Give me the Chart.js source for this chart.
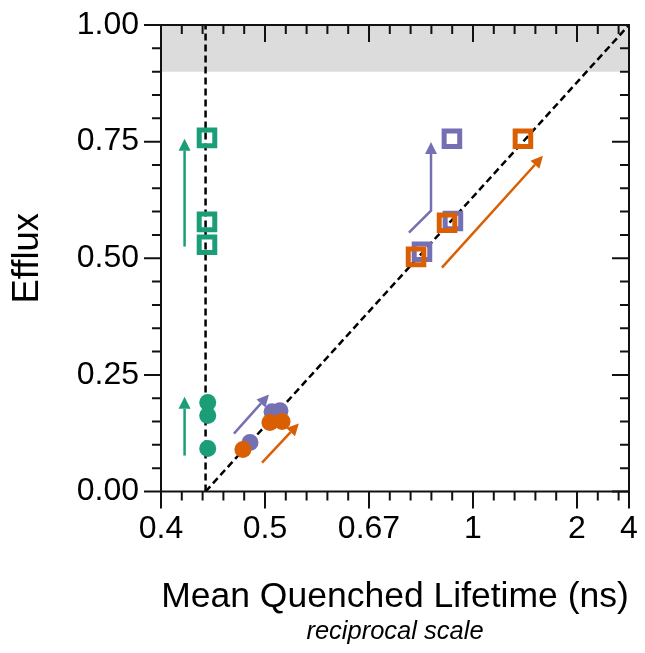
<!DOCTYPE html>
<html>
<head>
<meta charset="utf-8">
<script src="https://cdn.jsdelivr.net/npm/chart.js@4.4.0/dist/chart.umd.min.js"></script>
<style>
  html, body { margin: 0; padding: 0; background: #fff; }
</style>
</head>
<body>
<canvas id="effluxChart" width="645" height="653"></canvas>
<script>
// x axis: mean quenched lifetime (ns), drawn on a reciprocal scale
const xMin = 0.4, xMax = 4;
const xTickValues = [0.4, 0.5, 0.6667, 1, 2, 4];
const xTickLabels = ['0.4', '0.5', '0.67', '1', '2', '4'];
const yMin = 0, yMax = 1;
const yTickValues = [0, 0.25, 0.5, 0.75, 1];

// grey band at the top
const bandLow = 0.9, bandHigh = 1.0;

// dashed guides
const guideX = [0.4375, 0.4375];
const guideY = [0, 1];
const diagX = [0.4375, 4];
const diagY = [0, 1];

// markers
const greenSquaresX = [0.4388, 0.4388, 0.4388];
const greenSquaresY = [0.758, 0.578, 0.529];
const greenCirclesX = [0.4395, 0.4395, 0.4395];
const greenCirclesY = [0.191, 0.163, 0.092];
const purpleSquaresX = [0.803, 0.912, 0.908];
const purpleSquaresY = [0.514, 0.580, 0.756];
const purpleCirclesX = [0.4826, 0.5086, 0.5187];
const purpleCirclesY = [0.105, 0.171, 0.173];
const orangeSquaresX = [0.785, 0.889, 1.316];
const orangeSquaresY = [0.503, 0.576, 0.756];
const orangeCirclesX = [0.4748, 0.506, 0.5214];
const orangeCirclesY = [0.090, 0.148, 0.150];

// arrows (last point is the tip)
const arrowColors = ['green', 'green', 'purple', 'orange', 'purple', 'orange'];
const arrowX = [[0.419, 0.419], [0.419, 0.419], [0.4653, 0.5048], [0.4965, 0.5443], [0.7645, 0.832, 0.832], [0.870, 1.507]];
const arrowY = [[0.525, 0.756], [0.077, 0.203], [0.124, 0.208], [0.062, 0.146], [0.555, 0.602, 0.749], [0.480, 0.7195]];

const colors = { green: '#1b9e77', purple: '#7570b3', orange: '#d95f02' };

const recip = v => -1 / v;
const pts = (xs, ys) => xs.map((v, i) => ({ x: recip(v), y: ys[i] }));

Chart.defaults.font.family = "'Liberation Sans', Arial, sans-serif";
Chart.defaults.color = '#000';

// frame plus major/minor ticks on all four sides
const frameTicks = {
  id: 'frameTicks',
  afterDraw(chart) {
    const { ctx, chartArea: a, scales: { x, y } } = chart;
    const major = 17, minor = 9;
    ctx.save();
    ctx.strokeStyle = '#111';
    ctx.lineWidth = 2;
    ctx.beginPath();
    const xTick = (u, len) => {
      const px = x.getPixelForValue(u);
      ctx.moveTo(px, a.bottom); ctx.lineTo(px, a.bottom + len);
      ctx.moveTo(px, a.top); ctx.lineTo(px, a.top + len);
    };
    const yTick = (v, len) => {
      const py = y.getPixelForValue(v);
      ctx.moveTo(a.left, py); ctx.lineTo(a.left - len, py);
      ctx.moveTo(a.right, py); ctx.lineTo(a.right - len, py);
    };
    for (let k = 0; k <= 22; k++) xTick(recip(xMin) + k * 0.1, minor);
    xTickValues.forEach(v => xTick(recip(v), major));
    for (let k = 0; k <= 20; k++) yTick(k * 0.05, minor);
    yTickValues.forEach(v => yTick(v, major));
    ctx.stroke();
    ctx.strokeRect(a.left, a.top, a.right - a.left, a.bottom - a.top);
    ctx.restore();
  }
};

const arrows = {
  id: 'arrows',
  afterDatasetsDraw(chart) {
    const { ctx, scales: { x, y } } = chart;
    ctx.save();
    arrowX.forEach((xs, i) => {
      const p = xs.map((v, j) => [x.getPixelForValue(recip(v)), y.getPixelForValue(arrowY[i][j])]);
      const col = colors[arrowColors[i]];
      const [tx, ty] = p[p.length - 1];
      const [bx, by] = p[p.length - 2];
      const ang = Math.atan2(ty - by, tx - bx);
      const headLen = 12, headW = 6;
      const sx = tx - Math.cos(ang) * headLen, sy = ty - Math.sin(ang) * headLen;
      ctx.strokeStyle = col;
      ctx.lineWidth = 2.5;
      ctx.beginPath();
      ctx.moveTo(p[0][0], p[0][1]);
      for (let j = 1; j < p.length - 1; j++) ctx.lineTo(p[j][0], p[j][1]);
      ctx.lineTo(sx, sy);
      ctx.stroke();
      ctx.fillStyle = col;
      ctx.beginPath();
      ctx.moveTo(tx, ty);
      ctx.lineTo(sx - Math.sin(ang) * headW, sy + Math.cos(ang) * headW);
      ctx.lineTo(sx + Math.sin(ang) * headW, sy - Math.cos(ang) * headW);
      ctx.closePath();
      ctx.fill();
    });
    ctx.restore();
  }
};

const squares = (xs, ys, col, order) => ({
  data: pts(xs, ys), order,
  pointStyle: 'rect', pointRadius: 11, pointHoverRadius: 11,
  pointBorderWidth: 5, borderWidth: 5,
  pointBorderColor: col, borderColor: col,
  pointBackgroundColor: 'rgba(0,0,0,0)', backgroundColor: 'rgba(0,0,0,0)'
});
const circles = (xs, ys, col, order) => ({
  data: pts(xs, ys), order,
  pointStyle: 'circle', pointRadius: 8.5, pointHoverRadius: 8.5,
  pointBorderWidth: 0, borderWidth: 0,
  pointBackgroundColor: col, backgroundColor: col, borderColor: col
});
const dashed = (xs, ys) => ({
  type: 'line', data: pts(xs, ys), order: 9,
  borderColor: '#000', borderWidth: 2.5, borderDash: [7, 4],
  pointRadius: 0, fill: false, tension: 0
});

// the label offsets are done with tick padding; keep it out of the layout
const noPadding = s => { s.paddingTop = s.paddingBottom = s.paddingLeft = s.paddingRight = 0; };

new Chart(document.getElementById('effluxChart'), {
  type: 'scatter',
  data: {
    datasets: [
      circles(orangeCirclesX, orangeCirclesY, colors.orange, 1),
      squares(orangeSquaresX, orangeSquaresY, colors.orange, 1),
      circles(purpleCirclesX, purpleCirclesY, colors.purple, 2),
      squares(purpleSquaresX, purpleSquaresY, colors.purple, 2),
      circles(greenCirclesX, greenCirclesY, colors.green, 2),
      squares(greenSquaresX, greenSquaresY, colors.green, 2),
      dashed(guideX, guideY),
      dashed(diagX, diagY),
      {
        type: 'line', order: 10,
        data: pts([xMin, xMax], [bandHigh, bandHigh]),
        fill: { value: bandLow },
        backgroundColor: '#dcdcdc', borderWidth: 0, pointRadius: 0
      }
    ]
  },
  options: {
    responsive: false,
    animation: false,
    layout: { padding: { top: 25, right: 16, bottom: 0, left: 0 } },
    plugins: {
      legend: { display: false },
      tooltip: { enabled: false },
      subtitle: {
        display: true, position: 'bottom', fullSize: false,
        text: 'reciprocal scale', color: '#000',
        font: { size: 25.5, style: 'italic', lineHeight: 1 },
        padding: { top: 0, bottom: 8 }
      }
    },
    scales: {
      x: {
        type: 'linear', min: recip(xMin), max: recip(xMax),
        afterBuildTicks: s => { s.ticks = xTickValues.map(v => ({ value: recip(v) })); },
        afterFit: s => { s.height = 128; noPadding(s); },
        grid: { display: false, drawTicks: false },
        border: { display: false },
        ticks: {
          padding: 18, autoSkip: false, maxRotation: 0, color: '#000',
          font: { size: 32 },
          callback: (val, i) => xTickLabels[i]
        },
        title: {
          display: true, text: 'Mean Quenched Lifetime (ns)', color: '#000',
          font: { size: 35.5 }, padding: { top: 0, bottom: 1 }
        }
      },
      y: {
        type: 'linear', min: yMin, max: yMax,
        afterBuildTicks: s => { s.ticks = yTickValues.map(v => ({ value: v })); },
        afterFit: s => { s.width = 161; noPadding(s); },
        grid: { display: false, drawTicks: false },
        border: { display: false },
        ticks: {
          padding: 22, color: '#000', font: { size: 32 },
          callback: v => v.toFixed(2)
        },
        title: {
          display: true, text: 'Efflux', color: '#000',
          font: { size: 36.5 }, padding: { top: 6, bottom: 0 }
        }
      }
    }
  },
  plugins: [frameTicks, arrows]
});
</script>
</body>
</html>
